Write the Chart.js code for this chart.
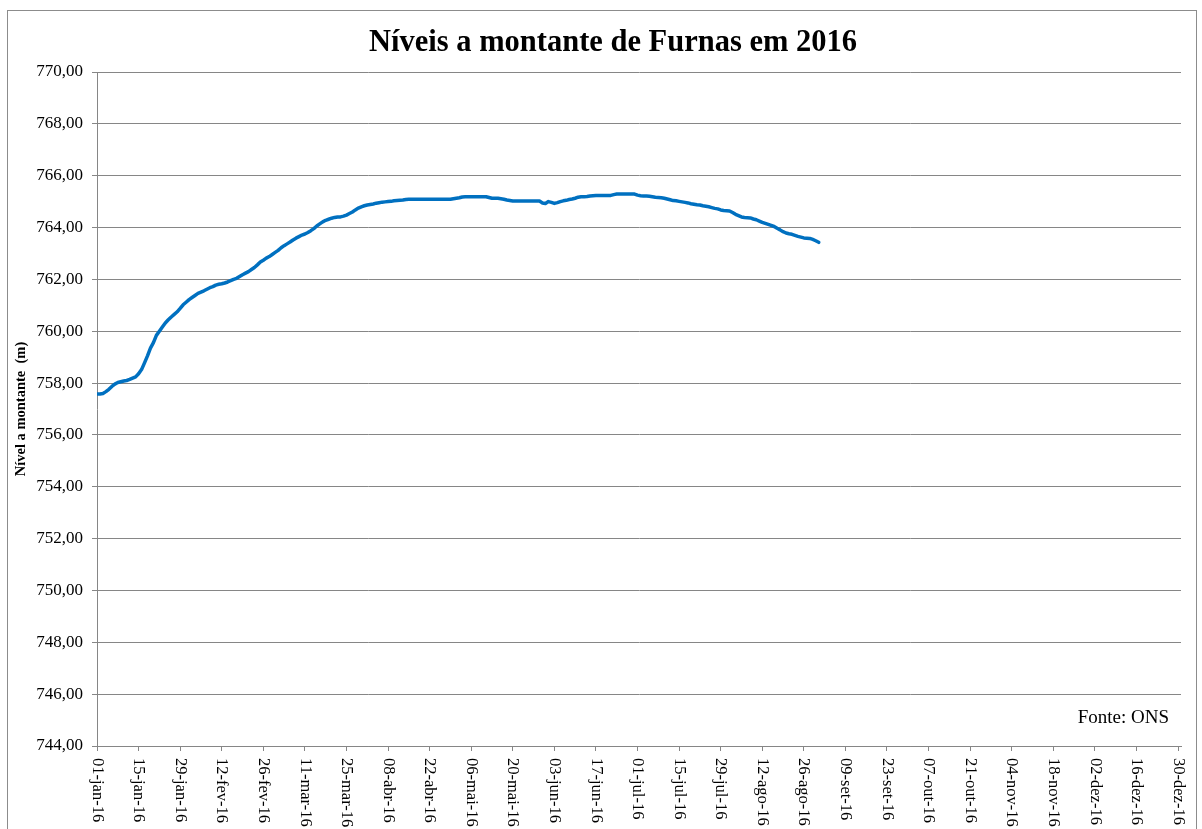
<!DOCTYPE html>
<html>
<head>
<meta charset="utf-8">
<title>Níveis a montante de Furnas em 2016</title>
<script src="https://cdn.jsdelivr.net/npm/chart.js@4.4.1/dist/chart.umd.min.js"></script>
<style>
  html, body { margin: 0; padding: 0; background: #fff; }
  canvas { display: block; }
</style>
</head>
<body>
<canvas id="furnasChart" width="1202" height="829"></canvas>
<script>
// Nível diário a montante (m), 01-jan-16 em diante, um array por mês
const janLevels = [757.58, 757.58, 757.60, 757.67, 757.76, 757.87, 757.96, 758.02, 758.05, 758.08,
                   758.10, 758.14, 758.19, 758.24, 758.36, 758.52, 758.78, 759.05, 759.35, 759.56,
                   759.84, 760.00, 760.16, 760.32, 760.44, 760.55, 760.65, 760.75, 760.88, 761.02, 761.12];
const fevLevels = [761.22, 761.30, 761.38, 761.46, 761.51, 761.56, 761.62, 761.68, 761.72, 761.78,
                   761.81, 761.83, 761.86, 761.90, 761.95, 762.00, 762.04, 762.11, 762.18, 762.24,
                   762.30, 762.38, 762.46, 762.56, 762.67, 762.74, 762.82, 762.88, 762.96];
const marLevels = [763.04, 763.12, 763.22, 763.30, 763.37, 763.44, 763.52, 763.59, 763.65, 763.71,
                   763.75, 763.81, 763.88, 763.96, 764.06, 764.14, 764.22, 764.28, 764.32, 764.36,
                   764.39, 764.41, 764.41, 764.44, 764.48, 764.54, 764.60, 764.68, 764.75, 764.80, 764.84];
const abrLevels = [764.87, 764.89, 764.91, 764.94, 764.96, 764.98, 764.99, 765.00, 765.01, 765.03,
                   765.04, 765.05, 765.06, 765.08, 765.09, 765.09, 765.09, 765.09, 765.09, 765.09,
                   765.09, 765.09, 765.09, 765.09, 765.09, 765.09, 765.09, 765.09, 765.09, 765.11];
const maiLevels = [765.13, 765.15, 765.18, 765.19, 765.19, 765.19, 765.19, 765.19, 765.19, 765.19,
                   765.19, 765.16, 765.13, 765.13, 765.13, 765.11, 765.09, 765.06, 765.04, 765.02,
                   765.02, 765.02, 765.02, 765.02, 765.02, 765.02, 765.02, 765.02, 765.02, 764.95, 764.93];
const junLevels = [765.00, 764.97, 764.93, 764.96, 765.00, 765.03, 765.05, 765.08, 765.10, 765.13,
                   765.17, 765.19, 765.19, 765.20, 765.22, 765.23, 765.24, 765.24, 765.24, 765.24,
                   765.24, 765.24, 765.27, 765.29, 765.29, 765.29, 765.29, 765.29, 765.29, 765.29];
const julLevels = [765.25, 765.23, 765.22, 765.22, 765.21, 765.19, 765.17, 765.16, 765.15, 765.13,
                   765.10, 765.07, 765.04, 765.03, 765.01, 764.99, 764.97, 764.95, 764.92, 764.90,
                   764.88, 764.87, 764.84, 764.82, 764.80, 764.77, 764.74, 764.72, 764.68, 764.66, 764.65];
const agoLevels = [764.64, 764.58, 764.51, 764.46, 764.41, 764.39, 764.38, 764.37, 764.33, 764.30,
                   764.25, 764.20, 764.16, 764.12, 764.08, 764.04, 763.97, 763.91, 763.84, 763.79,
                   763.76, 763.74, 763.70, 763.66, 763.63, 763.60, 763.59, 763.58, 763.54, 763.49, 763.43];

// Rótulos do eixo x (a cada 14 dias)
const tickLabels = ['01-jan-16', '15-jan-16', '29-jan-16', '12-fev-16', '26-fev-16', '11-mar-16',
                    '25-mar-16', '08-abr-16', '22-abr-16', '06-mai-16', '20-mai-16', '03-jun-16',
                    '17-jun-16', '01-jul-16', '15-jul-16', '29-jul-16', '12-ago-16', '26-ago-16',
                    '09-set-16', '23-set-16', '07-out-16', '21-out-16', '04-nov-16', '18-nov-16',
                    '02-dez-16', '16-dez-16', '30-dez-16'];
const tickStepDays = 14;
const yMin = 744, yMax = 770, yStep = 2;

const levels = [].concat(janLevels, fevLevels, marLevels, abrLevels, maiLevels, junLevels, julLevels, agoLevels);
const points = levels.map((v, i) => ({ x: i, y: v }));

const serif = '"Liberation Serif", "Times New Roman", serif';
const gridGray = '#868686';

// Borda, título, rótulos girados do eixo x e fonte
const chartDecor = {
    id: 'chartDecor',
    afterDraw(chart) {
        const ctx = chart.ctx;
        const xScale = chart.scales.x;
        ctx.save();
        ctx.strokeStyle = '#8c8c8c';
        ctx.lineWidth = 1;
        ctx.strokeRect(7.5, 10.5, 1189, 900);

        ctx.fillStyle = '#000';
        ctx.font = 'bold 30.5px ' + serif;
        ctx.textAlign = 'center';
        ctx.textBaseline = 'alphabetic';
        ctx.fillText('Níveis a montante de Furnas em 2016', 613, 51);

        ctx.font = '16.5px ' + serif;
        ctx.textAlign = 'left';
        ctx.textBaseline = 'middle';
        tickLabels.forEach((label, i) => {
            const px = xScale.getPixelForValue(i * tickStepDays);
            ctx.save();
            ctx.translate(px, xScale.top + 12);
            ctx.rotate(Math.PI / 2);
            ctx.fillText(label, 0, 0);
            ctx.restore();
        });

        ctx.font = '19px ' + serif;
        ctx.textAlign = 'right';
        ctx.textBaseline = 'alphabetic';
        ctx.fillText('Fonte: ONS', 1169, 723);
        ctx.restore();
    }
};

new Chart(document.getElementById('furnasChart'), {
    type: 'line',
    data: {
        datasets: [{
            label: 'Nível a montante',
            data: points,
            borderColor: '#0070C0',
            borderWidth: 3.5,
            pointRadius: 0,
            tension: 0,
            borderJoinStyle: 'round',
            borderCapStyle: 'round'
        }]
    },
    options: {
        responsive: false,
        animation: false,
        layout: {
            padding: { top: 72, left: 0, right: 21, bottom: 0 }
        },
        plugins: {
            legend: { display: false },
            tooltip: { enabled: false },
            title: { display: false }
        },
        scales: {
            x: {
                type: 'linear',
                min: 0,
                max: 365,
                afterBuildTicks(scale) {
                    scale.ticks = tickLabels.map((_, i) => ({ value: i * tickStepDays }));
                },
                ticks: { display: false },
                grid: { drawOnChartArea: false, tickLength: 5, color: gridGray },
                border: { color: gridGray },
                afterFit(scale) { scale.height = 83; }
            },
            y: {
                min: yMin,
                max: yMax,
                ticks: {
                    stepSize: yStep,
                    padding: 9,
                    color: '#000',
                    font: { family: serif, size: 17 },
                    callback: v => v.toFixed(2).replace('.', ',')
                },
                grid: { color: gridGray, tickLength: 5 },
                border: { color: gridGray },
                title: {
                    display: true,
                    text: 'Nível a montante  (m)',
                    color: '#000',
                    font: { family: serif, size: 14.5, weight: 'bold' },
                    padding: { top: 13, bottom: 0 }
                },
                afterFit(scale) { scale.width = 97; }
            }
        }
    },
    plugins: [chartDecor]
});
</script>
</body>
</html>
